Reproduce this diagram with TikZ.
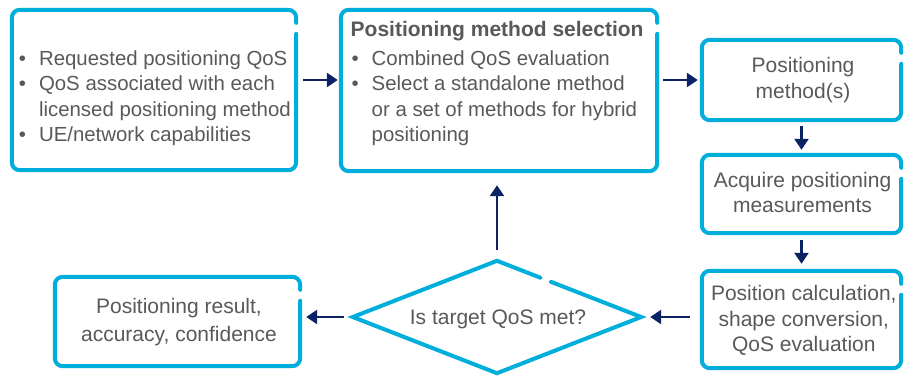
\documentclass[tikz,border=0pt]{standalone}
\usepackage{fontspec}
\setmainfont{Liberation Sans}
\usetikzlibrary{arrows.meta,calc,shapes.geometric}
\definecolor{cyanb}{HTML}{00AEDB}
\definecolor{navy}{HTML}{0B2265}
\definecolor{txt}{HTML}{595959}
\newcommand\gapbox[1]{\draw[border] ([yshift=-24pt]#1.north east) -- (#1.south east) -- (#1.south west) -- (#1.north west) -- (#1.north east) -- ([yshift=-13pt]#1.north east);}
\begin{document}
\begin{tikzpicture}[x=1pt,y=-1pt,
  border/.style={draw=cyanb, line width=4pt, rounded corners=8pt, line cap=round},
  area/.style={draw=none, inner sep=0pt},
  arr/.style={draw=navy, line width=2.5pt, -{Triangle[length=11pt,width=14pt]}},
  txtb/.style={text=txt, inner sep=0pt, font=\fontsize{20.4}{25.6}\selectfont},
  txtc/.style={text=txt, inner sep=0pt, font=\fontsize{21}{25.6}\selectfont}]
\fill[white] (0,0) rectangle (909,378);
\useasboundingbox (0,0) rectangle (909,378);

% box areas
\node[area, minimum width=284pt, minimum height=160pt] (b1) at (154,90) {};
\node[area, minimum width=316pt, minimum height=161pt] (b2) at (499,90.5) {};
\node[area, minimum width=199pt, minimum height=80pt] (b3) at (801.5,80) {};
\node[area, minimum width=199pt, minimum height=78pt] (b4) at (801.5,194) {};
\node[area, minimum width=199pt, minimum height=97pt] (b5) at (801.5,319.5) {};
\node[area, minimum width=245pt, minimum height=89pt] (b6) at (177.5,321.5) {};
\node[area, shape=diamond, minimum width=288pt, minimum height=112pt] (d) at (497,317) {};

% borders
\gapbox{b1}
\gapbox{b2}
\gapbox{b3}
\gapbox{b4}
\gapbox{b5}
\gapbox{b6}
\draw[draw=cyanb, line width=4pt, line cap=round]
  ($(d.north)!0.375!(d.east)$) -- (d.east) -- (d.south) -- (d.west) -- (d.north) -- ($(d.north)!0.30!(d.east)$);

% texts
\node[txtb, anchor=base west] (t1) at (18.7,65) {\begin{tabular}[t]{@{}l@{\hspace{13pt}}l@{}}
•& Requested positioning QoS\\
•& QoS associated with each\\
 & licensed positioning method\\
•& UE/network capabilities
\end{tabular}};
\node[text=txt, inner sep=0pt, anchor=base west, font=\fontsize{21}{25.6}\selectfont\bfseries] (t2h) at (350.5,36) {Positioning method selection};
\node[txtb, anchor=base west] (t2) at (351.4,65) {\begin{tabular}[t]{@{}l@{\hspace{13pt}}l@{}}
•& Combined QoS evaluation\\
•& Select a standalone method\\
 & or a set of methods for hybrid\\
 & positioning
\end{tabular}};
\node[txtc, anchor=base] (t3) at (803,72.7) {\begin{tabular}[t]{@{}c@{}}Positioning\\method(s)\end{tabular}};
\node[txtc, anchor=base] (t4) at (802.5,187) {\begin{tabular}[t]{@{}c@{}}Acquire positioning\\measurements\end{tabular}};
\node[txtc, anchor=base] (t5) at (803.8,300.7) {\begin{tabular}[t]{@{}c@{}}Position calculation,\\shape conversion,\\QoS evaluation\end{tabular}};
\node[text=txt, inner sep=0pt, anchor=base, font=\fontsize{21}{28}\selectfont] (t6) at (179,313.3) {\begin{tabular}[t]{@{}c@{}}Positioning result,\\accuracy, confidence\end{tabular}};
\node[txtc, anchor=base] (td) at (498,324) {Is target QoS met?};

% arrows
\draw[arr, shorten >=3pt] ($(b1.east)+(7,-10)$) coordinate (a1) -- (a1 -| b2.west);
\draw[arr, shorten <=6pt, shorten >=4pt] (b3.west -| b2.east) -- (b3.west);
\draw[arr, shorten <=6pt, shorten >=5pt] (b3.south) -- (b4.north);
\draw[arr, shorten <=7pt, shorten >=7pt] (b4.south) -- (b5.north);
\draw[arr, shorten <=12pt, shorten >=9pt] (d.east -| b5.west) -- (d.east);
\draw[arr, shorten <=9pt, shorten >=6pt] (d.west) -- (d.west -| b6.east);
\draw[arr, shorten <=11pt, shorten >=14pt] (d.north) -- (d.north |- b2.south);
\end{tikzpicture}
\end{document}
